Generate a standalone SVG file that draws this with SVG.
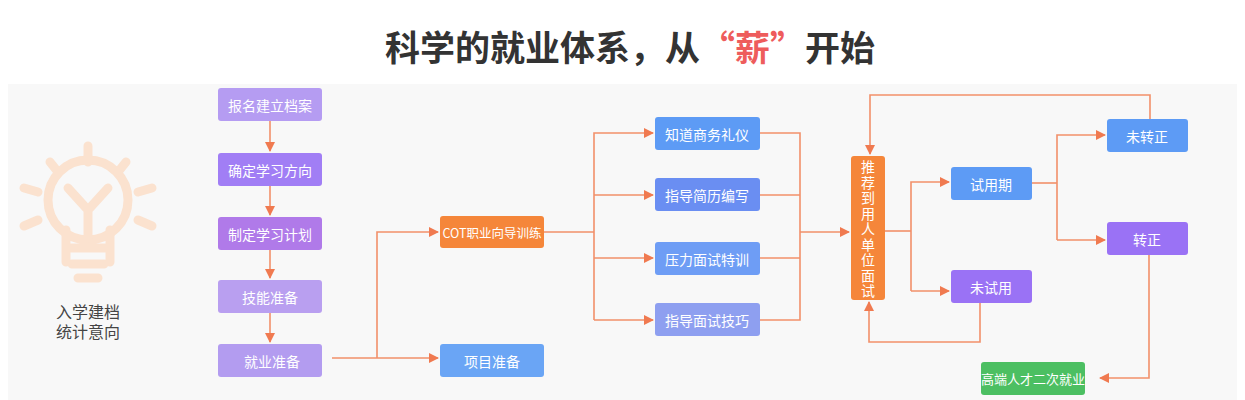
<svg xmlns="http://www.w3.org/2000/svg" width="1245" height="400" viewBox="0 0 1245 400">
<defs>
<marker id="ah" markerWidth="10" markerHeight="10" refX="9" refY="5" orient="auto" markerUnits="userSpaceOnUse"><path d="M0,0 L10,5 L0,10 Z" fill="#f07a50"/></marker>
<style>
.t{font-family:"Noto Sans CJK SC","Noto Sans",sans-serif;font-size:14px;fill:#fff;text-anchor:middle;dominant-baseline:central}
.c{fill:none;stroke:#f2906a;stroke-width:1.6}
.bulb{fill:none;stroke:#fbe2cf;stroke-width:9;stroke-linecap:round}
</style>
</defs>
<rect width="1245" height="400" fill="#fff"/>
<rect x="8" y="84" width="1229" height="316" fill="#f8f8f8"/>
<text x="630" y="45" style="font-family:'Noto Sans CJK SC',sans-serif;font-size:35px;font-weight:bold;fill:#333;text-anchor:middle;dominant-baseline:central">科学的就业体系，从<tspan fill="#ee5c5c">“薪”</tspan>开始</text>
<g id="bulb">
<circle cx="88" cy="200" r="40" class="bulb"/>
<path d="M68,188 L88,210 L108,188 M88,210 V238" class="bulb"/>
<path d="M66,230 V262 M110,230 V262 M70,248 H106 M72,264 H104 M78,278 H98" class="bulb"/>
<path d="M88,146 V162 M50,162 L58,172 M126,162 L118,172 M24,188 L38,192 M152,188 L138,192 M24,226 L38,220 M152,226 L138,220" class="bulb"/>
<text x="88" y="311" style="font-family:'Noto Sans CJK SC',sans-serif;font-size:16px;fill:#444;text-anchor:middle;dominant-baseline:central">入学建档</text>
<text x="88" y="331" style="font-family:'Noto Sans CJK SC',sans-serif;font-size:16px;fill:#444;text-anchor:middle;dominant-baseline:central">统计意向</text>
</g>
<g id="connectors">
<path class="c" d="M270,121 V151" marker-end="url(#ah)"/>
<path class="c" d="M270,186 V215" marker-end="url(#ah)"/>
<path class="c" d="M270,250 V278" marker-end="url(#ah)"/>
<path class="c" d="M270,313 V342" marker-end="url(#ah)"/>
<path class="c" d="M332,358 H377"/>
<path class="c" d="M377,358 V232 H438" marker-end="url(#ah)"/>
<path class="c" d="M377,358 H438" marker-end="url(#ah)"/>
<path class="c" d="M544,232 H594"/>
<path class="c" d="M594,320 V133 H653" marker-end="url(#ah)"/>
<path class="c" d="M594,195 H653" marker-end="url(#ah)"/>
<path class="c" d="M594,258 H653" marker-end="url(#ah)"/>
<path class="c" d="M594,320 H653" marker-end="url(#ah)"/>
<path class="c" d="M760,133 H800 V320 H760 M760,195 H800 M760,258 H800"/>
<path class="c" d="M800,232 H849" marker-end="url(#ah)"/>
<path class="c" d="M885,231 H911"/>
<path class="c" d="M911,291 V182 H949" marker-end="url(#ah)"/>
<path class="c" d="M911,291 H949" marker-end="url(#ah)"/>
<path class="c" d="M1032,183 H1057"/>
<path class="c" d="M1057,240 V135 H1105" marker-end="url(#ah)"/>
<path class="c" d="M1057,240 H1105" marker-end="url(#ah)"/>
<path class="c" d="M1150,119 V95 H870 V154" marker-end="url(#ah)"/>
<path class="c" d="M980,303 V342 H869 V302" marker-end="url(#ah)"/>
<path class="c" d="M1149,255 V378 H1100" marker-end="url(#ah)"/>
</g>
<g id="n1"><rect x="218" y="88" width="104" height="33" rx="3" fill="#b59cf2"/><text class="t" x="270" y="104.5">报名建立档案</text></g>
<g id="n2"><rect x="218" y="153" width="104" height="33" rx="3" fill="#a17ef5"/><text class="t" x="270" y="169.5">确定学习方向</text></g>
<g id="n3"><rect x="218" y="217" width="104" height="33" rx="3" fill="#b07ae9"/><text class="t" x="270" y="233.5">制定学习计划</text></g>
<g id="n4"><rect x="218" y="280" width="104" height="33" rx="3" fill="#b99ff0"/><text class="t" x="270" y="296.5">技能准备</text></g>
<g id="n5"><rect x="218" y="344" width="104" height="33" rx="3" fill="#b39cf0"/><text class="t" x="272" y="360.5">就业准备</text></g>
<g id="n6"><rect x="440" y="216" width="104" height="32" rx="3" fill="#f5863a"/><text class="t" x="492" y="232" style="font-size:12.5px">COT职业向导训练</text></g>
<g id="n7"><rect x="440" y="344" width="104" height="33" rx="3" fill="#6aa5f5"/><text class="t" x="492" y="360.5">项目准备</text></g>
<g id="n8"><rect x="655" y="117" width="105" height="33" rx="3" fill="#5d9bf5"/><text class="t" x="707" y="133.5">知道商务礼仪</text></g>
<g id="n9"><rect x="655" y="178" width="105" height="33" rx="3" fill="#6a8ef2"/><text class="t" x="707" y="194.5">指导简历编写</text></g>
<g id="n10"><rect x="655" y="242" width="105" height="33" rx="3" fill="#6e9df5"/><text class="t" x="707" y="258.5">压力面试特训</text></g>
<g id="n11"><rect x="655" y="303" width="105" height="33" rx="3" fill="#8e9ff0"/><text class="t" x="707" y="319.5">指导面试技巧</text></g>
<g id="n12"><rect x="851" y="156" width="34" height="144" rx="3" fill="#f5863a"/>
<text class="t" x="868" style="font-size:14px"><tspan x="868" y="166">推</tspan><tspan x="868" y="181.5">荐</tspan><tspan x="868" y="197">到</tspan><tspan x="868" y="212.5">用</tspan><tspan x="868" y="228">人</tspan><tspan x="868" y="243.5">单</tspan><tspan x="868" y="259">位</tspan><tspan x="868" y="274.5">面</tspan><tspan x="868" y="290">试</tspan></text>
</g>
<g id="n13"><rect x="951" y="167" width="81" height="33" rx="3" fill="#5d9bf5"/><text class="t" x="991" y="183.5">试用期</text></g>
<g id="n14"><rect x="951" y="270" width="81" height="33" rx="3" fill="#9a72f5"/><text class="t" x="991" y="286.5">未试用</text></g>
<g id="n15"><rect x="1107" y="119" width="81" height="33" rx="3" fill="#5d9bf5"/><text class="t" x="1147" y="135.5">未转正</text></g>
<g id="n16"><rect x="1107" y="222" width="81" height="33" rx="3" fill="#9a72f5"/><text class="t" x="1147" y="238.5">转正</text></g>
<g id="n17"><rect x="981" y="362" width="104" height="33" rx="3" fill="#4cbf62"/><text class="t" x="1033" y="378.5" style="font-size:13px">高端人才二次就业</text></g>
</svg>
